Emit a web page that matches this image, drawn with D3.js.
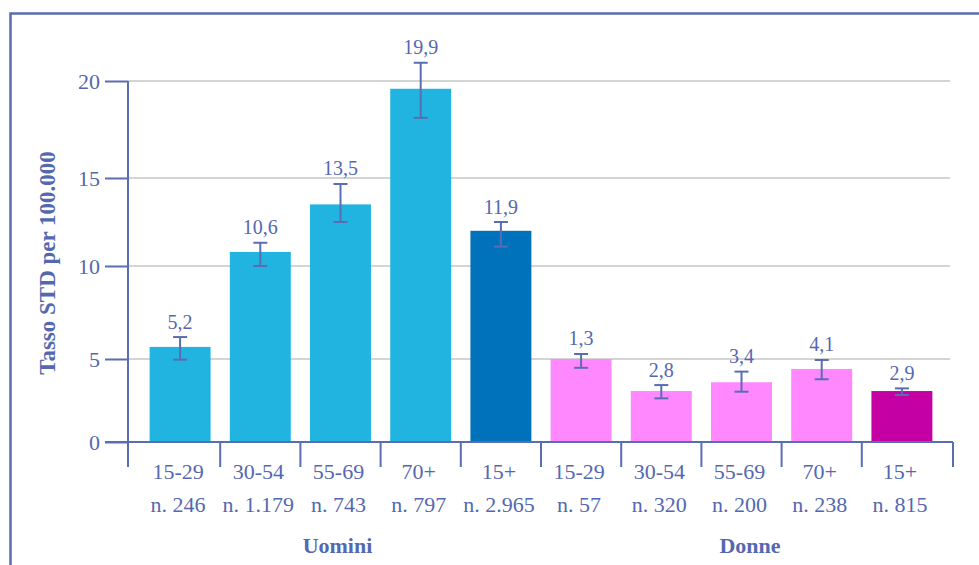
<!DOCTYPE html>
<html>
<head>
<meta charset="utf-8">
<script src="https://cdn.jsdelivr.net/npm/d3@7"></script>
</head>
<body style="margin:0;padding:0;background:#ffffff;">
<script>
// ---- data ----
const groups = ["Uomini", "Donne"];
const ageLabels = ["15-29", "30-54", "55-69", "70+", "15+", "15-29", "30-54", "55-69", "70+", "15+"];
const countLabels = ["n. 246", "n. 1.179", "n. 743", "n. 797", "n. 2.965", "n. 57", "n. 320", "n. 200", "n. 238", "n. 815"];
const groupOf = [0, 0, 0, 0, 0, 1, 1, 1, 1, 1];
const valueLabels = ["5,2", "10,6", "13,5", "19,9", "11,9", "1,3", "2,8", "3,4", "4,1", "2,9"];
const barValues = [5.65, 10.8, 13.5, 19.6, 12.0, 5.0, 3.07, 3.6, 4.4, 3.07];
const ciLow = [4.96, 10.0, 12.5, 18.1, 11.1, 4.47, 2.63, 3.03, 3.78, 2.83];
const ciHigh = [6.18, 11.32, 14.66, 20.94, 12.5, 5.27, 3.43, 4.24, 4.94, 3.23];
const barKind = ["age", "age", "age", "age", "total", "age", "age", "age", "age", "total"];
const yTicks = [0, 5, 10, 15, 20];
const yTitle = "Tasso STD per 100.000";

// ---- styles ----
const W = 979, H = 565;
const FONT = "'Liberation Serif', monospace";
const axisColor = "#5a6db3";
const textColor = "#5468b0";
const gridColor = "#c6c6c6";
const colorFor = (i) => {
  if (groupOf[i] === 0) return barKind[i] === "total" ? "#0071bb" : "#22b4e0";
  return barKind[i] === "total" ? "#c400a4" : "#ff88ff";
};

const svg = d3.select("body").append("svg")
  .attr("width", W).attr("height", H)
  .style("display", "block")
  .style("font-family", FONT);

// frame
svg.append("rect")
  .attr("x", 10.5).attr("y", 13.5)
  .attr("width", 1000).attr("height", 600)
  .attr("fill", "none").attr("stroke", axisColor).attr("stroke-width", 2.5);

const idx = d3.range(ageLabels.length);

// scales
const x = d3.scaleBand().domain(idx).range([140, 942])
  .paddingInner(0.24).paddingOuter(0.12);
const y = d3.scaleLinear().domain([0, 5, 10, 15, 20]).range([442, 359, 266, 178, 81]);

const axisX = 128, axisRight = 953;

// gridlines
svg.append("g").selectAll("line")
  .data(yTicks.filter(d => d > 0))
  .join("line")
  .attr("x1", axisX).attr("x2", 950)
  .attr("y1", d => y(d)).attr("y2", d => y(d))
  .attr("stroke", gridColor).attr("stroke-width", 1.5);

// bars
svg.append("g").selectAll("rect")
  .data(idx)
  .join("rect")
  .attr("x", i => x(i))
  .attr("width", x.bandwidth())
  .attr("y", i => y(barValues[i]))
  .attr("height", i => y(0) - y(barValues[i]))
  .attr("fill", i => colorFor(i));

// y axis
const yAxis = d3.axisLeft(y).tickValues(yTicks).tickSize(23).tickPadding(5)
  .tickFormat(d3.format("d"));
const gy = svg.append("g").attr("transform", `translate(${axisX},0)`).call(yAxis);
gy.attr("font-family", null).attr("font-size", null);
gy.select(".domain").remove();
gy.selectAll(".tick line").attr("stroke", axisColor).attr("stroke-width", 2);
gy.selectAll(".tick text")
  .attr("fill", textColor)
  .style("font-family", FONT)
  .style("font-size", "22px");

// y axis vertical line
svg.append("line")
  .attr("x1", axisX).attr("x2", axisX)
  .attr("y1", y(20)).attr("y2", y(0) + 25)
  .attr("stroke", axisColor).attr("stroke-width", 2);

// x axis baseline
svg.append("line")
  .attr("x1", axisX - 23).attr("x2", axisRight)
  .attr("y1", y(0)).attr("y2", y(0))
  .attr("stroke", axisColor).attr("stroke-width", 2);

// x category separators
const gap = x.step() - x.bandwidth();
const seps = [axisX].concat(idx.slice(1).map(i => x(i) - gap / 2)).concat([axisRight]);
svg.append("g").selectAll("line")
  .data(seps.slice(1))
  .join("line")
  .attr("x1", d => d).attr("x2", d => d)
  .attr("y1", y(0)).attr("y2", y(0) + 25)
  .attr("stroke", axisColor).attr("stroke-width", 2);

// error bars
const eb = svg.append("g").attr("stroke", axisColor).attr("stroke-width", 2);
idx.forEach(i => {
  const cx = x(i) + x.bandwidth() / 2;
  eb.append("line").attr("x1", cx).attr("x2", cx)
    .attr("y1", y(ciLow[i])).attr("y2", y(ciHigh[i]));
  eb.append("line").attr("x1", cx - 7).attr("x2", cx + 7)
    .attr("y1", y(ciLow[i])).attr("y2", y(ciLow[i]));
  eb.append("line").attr("x1", cx - 7).attr("x2", cx + 7)
    .attr("y1", y(ciHigh[i])).attr("y2", y(ciHigh[i]));
});

// value labels
svg.append("g").selectAll("text")
  .data(idx)
  .join("text")
  .attr("x", i => x(i) + x.bandwidth() / 2)
  .attr("y", i => y(ciHigh[i]) - 8.5)
  .attr("text-anchor", "middle")
  .attr("fill", textColor)
  .style("font-family", FONT)
  .style("font-size", "20px")
  .text(i => valueLabels[i]);

// category labels
const catG = svg.append("g");
catG.selectAll("text.age")
  .data(idx).join("text").attr("class", "age")
  .attr("x", i => x(i) + x.bandwidth() / 2 - 2)
  .attr("y", 479)
  .attr("text-anchor", "middle")
  .attr("fill", textColor)
  .style("font-family", FONT)
  .style("font-size", "22px")
  .text(i => ageLabels[i]);
catG.selectAll("text.cnt")
  .data(idx).join("text").attr("class", "cnt")
  .attr("x", i => x(i) + x.bandwidth() / 2 - 2)
  .attr("y", 512)
  .attr("text-anchor", "middle")
  .attr("fill", textColor)
  .style("font-family", FONT)
  .style("font-size", "22px")
  .text(i => countLabels[i]);

// group labels (centered on each group's span of separators)
const groupCenters = groups.map((g, gi) => {
  const members = idx.filter(i => groupOf[i] === gi);
  const left = seps[members[0]], right = seps[members[members.length - 1] + 1];
  return (left + right) / 2 + 3;
});
svg.append("g").selectAll("text")
  .data(groups)
  .join("text")
  .attr("x", (d, gi) => groupCenters[gi])
  .attr("y", 553)
  .attr("text-anchor", "middle")
  .attr("fill", textColor)
  .style("font-family", FONT)
  .style("font-size", "22px")
  .style("font-weight", "bold")
  .text(d => d);

// y title
svg.append("text")
  .attr("transform", "translate(55,263) rotate(-90)")
  .attr("text-anchor", "middle")
  .attr("fill", textColor)
  .style("font-family", FONT)
  .style("font-size", "23px")
  .style("font-weight", "bold")
  .text(yTitle);
</script>
</body>
</html>
